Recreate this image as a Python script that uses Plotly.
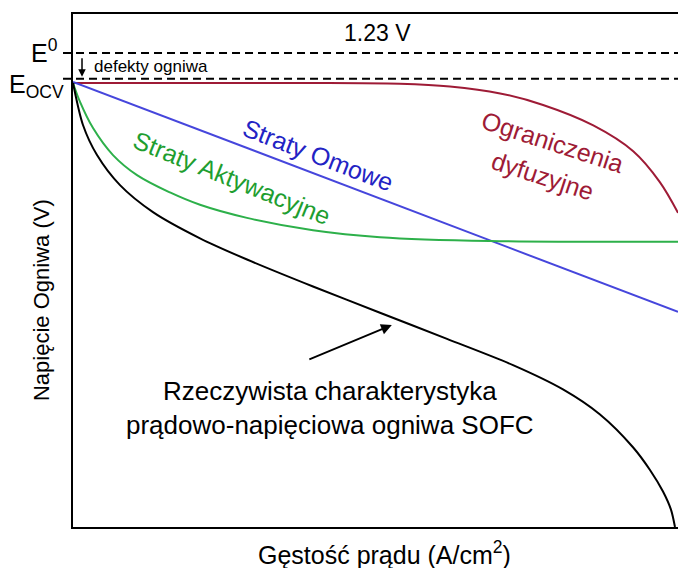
import plotly.graph_objects as go

# ---- data (current density in arbitrary units, voltage in V) ----
E0 = 1.23
E_OCV = 1.163

diff_x = [0.0, 0.375, 0.540, 0.623, 0.706, 0.777, 0.860, 0.926, 0.970, 1.0]
diff_y = [1.152, 1.152, 1.150, 1.143, 1.125, 1.095, 1.042, 0.975, 0.895, 0.815]

ohm_x = [0.0, 1.0]
ohm_y = [1.155, 0.558]

act_x = [0.0, 0.0116, 0.0331, 0.0661, 0.1058, 0.1603, 0.2099, 0.2876, 0.3967, 0.5074, 0.6893, 1.0]
act_y = [1.152, 1.103, 1.035, 0.965, 0.913, 0.868, 0.836, 0.802, 0.770, 0.752, 0.742, 0.740]

real_x = [0.0, 0.0165, 0.0397, 0.0777, 0.1322, 0.2099, 0.2876, 0.3967, 0.5074,
          0.6182, 0.7273, 0.8099, 0.8711, 0.9256, 0.9537, 0.9752, 0.9884, 0.9950]
real_y = [1.152, 1.043, 0.965, 0.887, 0.817, 0.749, 0.694, 0.624, 0.556,
          0.488, 0.420, 0.357, 0.292, 0.207, 0.148, 0.092, 0.045, 0.0]

X_MAX = 1.0
Y_MAX = 1.331

FONT = "Liberation Sans, Arial, sans-serif"
RED = "#9E1B36"
BLUE = "#4646DC"
GREEN = "#2DB04A"

fig = go.Figure()
fig.add_trace(go.Scatter(x=diff_x, y=diff_y, mode="lines", line=dict(color=RED, width=2, shape="spline")))
fig.add_trace(go.Scatter(x=ohm_x, y=ohm_y, mode="lines", line=dict(color=BLUE, width=2)))
fig.add_trace(go.Scatter(x=act_x, y=act_y, mode="lines", line=dict(color=GREEN, width=2, shape="spline")))
fig.add_trace(go.Scatter(x=real_x, y=real_y, mode="lines",
                         line=dict(color="black", width=2, shape="spline", smoothing=0.8)))

# dashed reference lines (paper coords so they may extend left of axis)
for v in (E0, E_OCV):
    fig.add_shape(type="line", xref="paper", yref="paper", x0=-0.0165, x1=1.0,
                  y0=v / Y_MAX, y1=v / Y_MAX, line=dict(color="black", width=2, dash="8px,5px"))

ann = []
ann.append(dict(x=0.504, y=1.282, text="1.23 V", showarrow=False, font=dict(size=23, color="black")))
ann.append(dict(x=0.031, y=1.196, text="defekty ogniwa", showarrow=False, xanchor="left",
                font=dict(size=17, color="black")))
ann.append(dict(x=0.0149, y=E_OCV + 0.005, ax=0, ay=-20, text="", showarrow=True,
                arrowhead=2, arrowsize=1, arrowwidth=1.5, arrowcolor="black"))
ann.append(dict(xref="paper", yref="paper", x=-0.021, y=E0 / Y_MAX + 0.004, text="E<sup>0</sup>",
                showarrow=False, xanchor="right", yanchor="middle", font=dict(size=25, color="black")))
ann.append(dict(xref="paper", yref="paper", x=-0.012, y=E_OCV / Y_MAX - 0.014, text="E<sub>OCV</sub>",
                showarrow=False, xanchor="right", yanchor="middle", font=dict(size=25, color="black")))
ann.append(dict(x=0.405, y=0.965, text="Straty Omowe", showarrow=False, textangle=21,
                font=dict(size=25, color="#2323C4")))
ann.append(dict(x=0.263, y=0.905, text="Straty Aktywacyjne", showarrow=False, textangle=22,
                font=dict(size=25, color="#1E9E30")))
ann.append(dict(x=0.793, y=0.999, text="Ograniczenia", showarrow=False, textangle=18,
                font=dict(size=25, color=RED)))
ann.append(dict(x=0.777, y=0.911, text="dyfuzyjne", showarrow=False, textangle=18,
                font=dict(size=25, color=RED)))
ann.append(dict(x=0.527, y=0.524, ax=-84, ay=35, text="", showarrow=True,
                arrowhead=2, arrowsize=1.2, arrowwidth=1.8, arrowcolor="black"))
ann.append(dict(x=0.425, y=0.309, text="Rzeczywista charakterystyka<br>prądowo-napięciowa ogniwa SOFC",
                showarrow=False, font=dict(size=26, color="black")))
ann.append(dict(xref="paper", yref="paper", x=-0.0512, y=0.4425, text="Napięcie Ogniwa (V)",
                textangle=-90, showarrow=False, xanchor="center", yanchor="middle",
                font=dict(size=22, color="black")))
ann.append(dict(xref="paper", yref="paper", x=0.515, y=-0.0507, xanchor="center", yanchor="middle",
                text="Gęstość prądu (A/cm<sup>2</sup>)", showarrow=False, font=dict(size=25, color="black")))

fig.update_layout(
    width=678, height=568,
    margin=dict(l=73, r=0, t=14, b=41, autoexpand=False),
    paper_bgcolor="white", plot_bgcolor="white",
    showlegend=False,
    font=dict(family=FONT, color="black"),
    annotations=ann,
    xaxis=dict(range=[0, X_MAX], showgrid=False, zeroline=False, showticklabels=False, ticks="",
               showline=True, linecolor="black", linewidth=2, mirror=True),
    yaxis=dict(range=[0, Y_MAX], showgrid=False, zeroline=False, showticklabels=False, ticks="",
               showline=True, linecolor="black", linewidth=2),
)

fig.write_html("out.html", config={"displayModeBar": False},
               post_script="document.body.style.margin='0px';")
